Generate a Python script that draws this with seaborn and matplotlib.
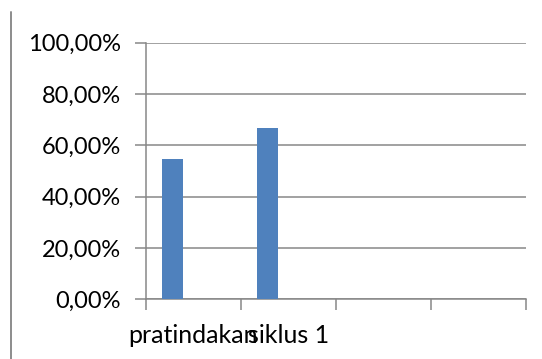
import matplotlib
matplotlib.use("Agg")
import matplotlib.pyplot as plt
from matplotlib.lines import Line2D
from matplotlib.ticker import FixedLocator, FuncFormatter
import pandas as pd
import seaborn as sns

# Persentase per tahap
categories = ["pratindakan", "siklus 1"]
percent = [54.55, 66.67]
series = ["Series1", "Series1"]
series_order = ["Series1", "Series2", "Series3"]
slot_count = 4
y_ticks = [0, 20, 40, 60, 80, 100]

df = pd.DataFrame({"tahap": categories, "nilai": percent, "seri": series})

sns.set_theme(style="white")
plt.rcParams["font.family"] = ["Lato", "DejaVu Sans"]

fig = plt.figure(figsize=(5.42, 3.59), dpi=100)
ax = fig.add_axes([146 / 542, 1 - 299.3 / 359, (526 - 146) / 542, (299.3 - 42.7) / 359])

grid_c = "#878787"
sns.barplot(data=df, x="tahap", y="nilai", hue="seri", order=categories,
            hue_order=series_order, palette=["#4F81BD"] * 3, width=3 / 4.5,
            dodge=True, saturation=1, legend=False, linewidth=0, ax=ax, zorder=3)

ax.set_xlim(-0.5, slot_count - 0.5)
ax.set_ylim(0, 100)
ax.yaxis.set_major_locator(FixedLocator(y_ticks))
ax.yaxis.set_major_formatter(FuncFormatter(lambda v, p: f"{v:.2f}%".replace(".", ",")))
ax.grid(axis="y", color=grid_c, linewidth=1.1, zorder=0)
ax.set_axisbelow(True)

# ticks at category boundaries, labels at centres
ax.set_xticks([i - 0.5 for i in range(slot_count + 1)])
ax.set_xticklabels([])
ax.set_xticks(range(len(categories)), minor=True)
ax.set_xticklabels(categories, minor=True)
ax.tick_params(axis="x", which="major", length=8, width=1.1, color=grid_c, direction="out", bottom=True)
ax.tick_params(axis="x", which="minor", length=0, pad=18, labelsize=18, labelcolor="#000000")
ax.tick_params(axis="y", length=8, width=1.1, color=grid_c, direction="out", left=True,
               pad=10, labelsize=17, labelcolor="#000000")

for side in ("top", "right"):
    ax.spines[side].set_visible(False)
for side in ("left", "bottom"):
    ax.spines[side].set_color(grid_c)
    ax.spines[side].set_linewidth(1.1)
ax.set_xlabel("")
ax.set_ylabel("")

# frame edge on the left
fig.add_artist(Line2D([11 / 542, 11 / 542], [0, 1 - 12 / 359], transform=fig.transFigure,
                      color="#8c8c8c", linewidth=1.4))

fig.savefig("out.png", dpi=100)
